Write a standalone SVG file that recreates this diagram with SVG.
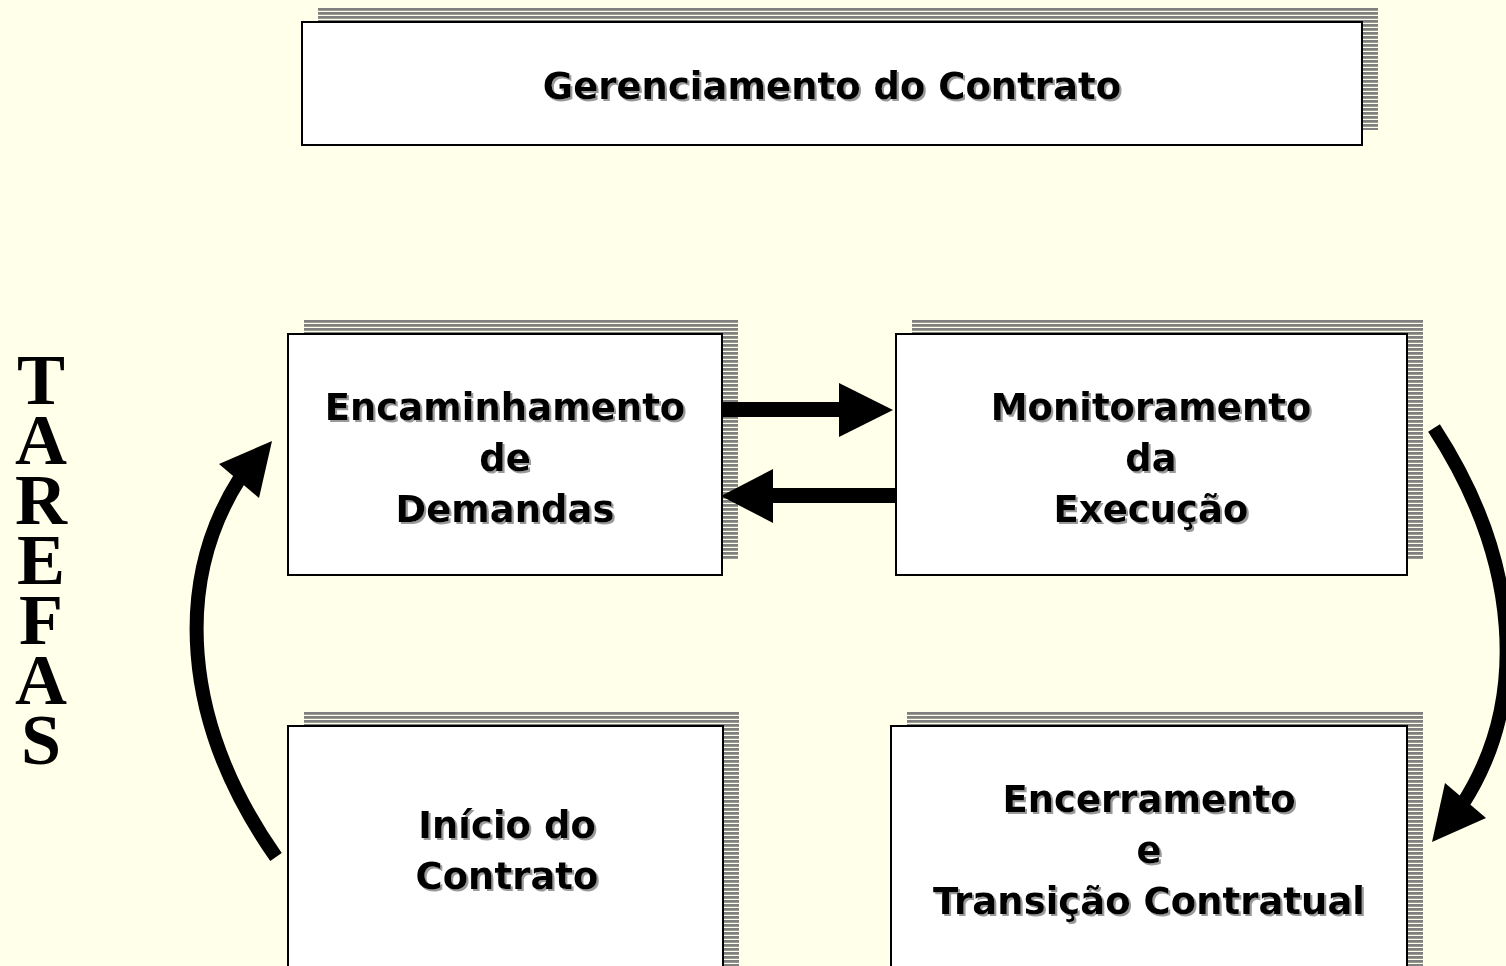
<svg xmlns="http://www.w3.org/2000/svg" width="1506" height="966" viewBox="0 0 1506 966">
<defs>
<pattern id="stripes" patternUnits="userSpaceOnUse" width="8" height="4">
<rect x="0" y="0" width="8" height="2.8" fill="#808080"/>
</pattern>
<filter id="tshadow" x="-5%" y="-20%" width="110%" height="140%">
<feDropShadow dx="2" dy="2" stdDeviation="0.4" flood-color="#9a9a9a" flood-opacity="1"/>
</filter>
<style>
.shadow{fill:url(#stripes);}
.box{fill:#ffffff;stroke:#000000;stroke-width:2;}
.lbl{font-family:"DejaVu Sans","Liberation Sans",sans-serif;font-weight:bold;font-size:37px;fill:#000000;text-anchor:middle;filter:url(#tshadow);}
.side{font-family:"Liberation Serif","Times New Roman",serif;font-weight:bold;font-size:72px;fill:#000000;writing-mode:vertical-lr;text-orientation:upright;letter-spacing:-20px;}
.arc{fill:none;stroke:#000000;stroke-width:14;}
.head{fill:#000000;}
</style>
</defs>
<rect x="0" y="0" width="1506" height="966" fill="#ffffea"/>

<g id="title">
<rect class="shadow" x="318" y="8" width="1060" height="122"/>
<rect class="box" x="302" y="22" width="1060" height="123"/>
<text class="lbl" x="832" y="99">Gerenciamento do Contrato</text>
</g>

<g id="encaminhamento">
<rect class="shadow" x="304" y="319" width="434" height="241"/>
<rect class="box" x="288" y="334" width="434" height="241"/>
<text class="lbl" x="505" y="420">Encaminhamento</text>
<text class="lbl" x="505" y="471">de</text>
<text class="lbl" x="505" y="522">Demandas</text>
</g>

<g id="monitoramento">
<rect class="shadow" x="912" y="319" width="511" height="241"/>
<rect class="box" x="896" y="334" width="511" height="241"/>
<text class="lbl" x="1151" y="420">Monitoramento</text>
<text class="lbl" x="1151" y="471">da</text>
<text class="lbl" x="1151" y="522">Execução</text>
</g>

<g id="inicio">
<rect class="shadow" x="304" y="711" width="435" height="270"/>
<rect class="box" x="288" y="726" width="435" height="270"/>
<text class="lbl" x="507" y="838">Início do</text>
<text class="lbl" x="507" y="889">Contrato</text>
</g>

<g id="encerramento">
<rect class="shadow" x="907" y="711" width="516" height="270"/>
<rect class="box" x="891" y="726" width="516" height="270"/>
<text class="lbl" x="1149" y="812">Encerramento</text>
<text class="lbl" x="1149" y="863">e</text>
<text class="lbl" x="1149" y="914">Transição Contratual</text>
</g>

<g id="tarefas">
<text class="side" x="41" y="340">TAREFAS</text>
</g>

<g id="connectors">
<polygon class="head" points="722,402 839,402 839,383 893,410 839,437 839,417 722,417"/>
<polygon class="head" points="895,488 773,488 773,469 721,496 773,523 773,503 895,503"/>
<path class="arc" d="M 276 857 C 180 720, 175 580, 240 478"/>
<polygon class="head" points="272,441 219,464 259,498"/>
<path class="arc" d="M 1434 428 C 1520 560, 1530 700, 1462 805"/>
<polygon class="head" points="1432,842 1445,783 1486,818"/>
</g>
</svg>
